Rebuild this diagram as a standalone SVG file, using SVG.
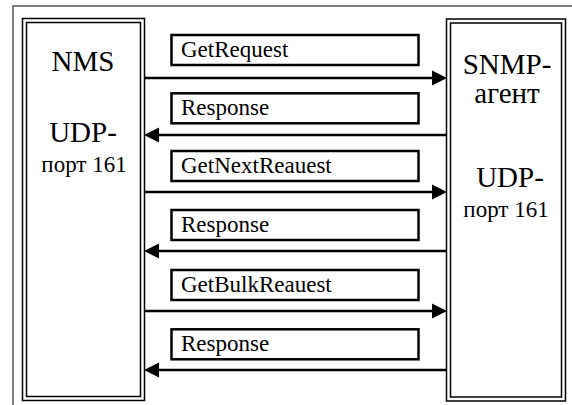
<svg xmlns="http://www.w3.org/2000/svg" width="572" height="405" viewBox="0 0 572 405">
  <style>
    .frame { fill: none; stroke: #555; stroke-width: 1.5; }
    .outer { fill: #fff; stroke: #000; stroke-width: 1.5; }
    .inner { fill: none; stroke: #000; stroke-width: 1.5; }
    .msgbox { fill: #fff; stroke: #000; stroke-width: 2.5; }
    .wire { stroke: #000; stroke-width: 2.5; fill: none; }
    .head { fill: #000; }
  </style>

  <rect width="572" height="405" fill="#fff"/>
  <!-- page frame (top and left edges) -->
  <path class="frame" d="M13,405 V6 H572"/>

  <g font-family="'Times New Roman', Times, 'Liberation Serif', 'Nimbus Roman', 'Nimbus Roman No9 L', FreeSerif, 'Noto Serif', 'DejaVu Serif', serif" fill="#000">
    <!-- manager station -->
    <g id="nms">
      <rect class="outer" x="22.5" y="18.5" width="122" height="382"/>
      <rect class="inner" x="26.5" y="22.5" width="114" height="374"/>
      <text x="83" y="71" font-size="29" text-anchor="middle">NMS</text>
      <text x="83" y="141.5" font-size="29" text-anchor="middle">UDP-</text>
      <text x="84" y="171.5" font-size="23" text-anchor="middle">порт 161</text>
    </g>

    <!-- agent -->
    <g id="agent">
      <rect class="outer" x="446.5" y="19" width="119" height="382"/>
      <rect class="inner" x="450.5" y="23" width="111" height="374"/>
      <text x="507" y="74" font-size="29" text-anchor="middle">SNMP-</text>
      <text x="507" y="103" font-size="29" text-anchor="middle">агент</text>
      <text x="510" y="186.5" font-size="29" text-anchor="middle">UDP-</text>
      <text x="506" y="216.5" font-size="23" text-anchor="middle">порт 161</text>
    </g>

    <!-- message labels -->
    <g id="msg-getrequest">
      <rect class="msgbox" x="171.5" y="35" width="247" height="30"/>
      <text x="181" y="56.5" font-size="23">GetRequest</text>
    </g>
    <g id="msg-response-1">
      <rect class="msgbox" x="171.5" y="93.3" width="247" height="30"/>
      <text x="181" y="114.8" font-size="23">Response</text>
    </g>
    <g id="msg-getnextrequest">
      <rect class="msgbox" x="171.5" y="151" width="247" height="30"/>
      <text x="181" y="172.5" font-size="23">GetNextReauest</text>
    </g>
    <g id="msg-response-2">
      <rect class="msgbox" x="171.5" y="210" width="247" height="30"/>
      <text x="181" y="231.5" font-size="23">Response</text>
    </g>
    <g id="msg-getbulkrequest">
      <rect class="msgbox" x="171.5" y="270" width="247" height="30"/>
      <text x="181" y="291.5" font-size="23">GetBulkReauest</text>
    </g>
    <g id="msg-response-3">
      <rect class="msgbox" x="171.5" y="329.3" width="247" height="30"/>
      <text x="181" y="350.8" font-size="23">Response</text>
    </g>
  </g>

  <!-- request / response arrows -->
  <g id="connectors">
    <line class="wire" x1="145" y1="78" x2="434" y2="78"/>
    <polygon class="head" points="447,78 432,70.5 432,85.5"/>
    <line class="wire" x1="446" y1="135" x2="157" y2="135"/>
    <polygon class="head" points="144,135 159,127.5 159,142.5"/>
    <line class="wire" x1="145" y1="192" x2="434" y2="192"/>
    <polygon class="head" points="447,192 432,184.5 432,199.5"/>
    <line class="wire" x1="446" y1="251" x2="157" y2="251"/>
    <polygon class="head" points="144,251 159,243.5 159,258.5"/>
    <line class="wire" x1="145" y1="311" x2="434" y2="311"/>
    <polygon class="head" points="447,311 432,303.5 432,318.5"/>
    <line class="wire" x1="446" y1="370" x2="157" y2="370"/>
    <polygon class="head" points="144,370 159,362.5 159,377.5"/>
  </g>
</svg>
